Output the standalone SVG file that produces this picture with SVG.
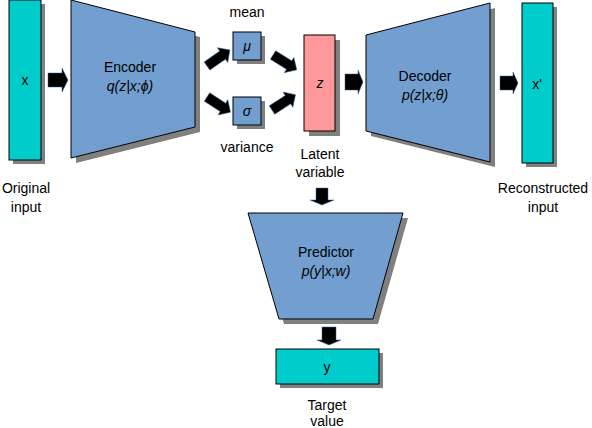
<svg xmlns="http://www.w3.org/2000/svg" width="592" height="428" viewBox="0 0 592 428">
<style>
text{font-family:"Liberation Sans",Arial,sans-serif;font-size:14px;fill:#000;text-anchor:middle}
.it{font-style:italic}
.sh{fill:#808080;stroke:none}
.cy{fill:#00cccc;stroke:#000;stroke-width:1}
.bl{fill:#729fcf;stroke:#000;stroke-width:1}
.pk{fill:#ff9999;stroke:#000;stroke-width:1}
.ar{fill:#000;stroke:#3465a4;stroke-width:0.5}
</style>
<rect width="592" height="428" fill="#fff"/>
<g id="input">
<rect class="sh" x="13" y="4" width="32" height="160"/>
<rect class="cy" x="9" y="0" width="32" height="160"/>
<text x="25" y="85">x</text>
<text x="26" y="193">Original</text>
<text x="26" y="212">input</text>
</g>
<g id="encoder">
<polygon class="sh" points="76,5 200,37 200,132 76,163"/>
<polygon class="bl" points="71,0 195,32 195,127 71,158"/>
<text x="130" y="72">Encoder</text>
<text x="130" y="91" class="it">q(z|x;ϕ)</text>
</g>
<g id="mean">
<rect class="sh" x="237" y="36" width="28" height="28"/>
<rect class="bl" x="233" y="32" width="28" height="28"/>
<text x="247" y="51" class="it">μ</text>
<text x="247" y="17">mean</text>
</g>
<g id="variance">
<rect class="sh" x="237" y="101" width="28" height="28"/>
<rect class="bl" x="233" y="97" width="28" height="28"/>
<text x="247" y="116" class="it">σ</text>
<text x="247" y="152">variance</text>
</g>
<g id="latent">
<rect class="sh" x="309" y="40" width="31" height="96"/>
<rect class="pk" x="304" y="35" width="31" height="96"/>
<text x="320" y="88" class="it">z</text>
<text x="320" y="159">Latent</text>
<text x="320" y="177">variable</text>
</g>
<g id="decoder">
<polygon class="sh" points="371,40 495,8 495,167 371,136"/>
<polygon class="bl" points="366,35 490,3 490,162 366,131"/>
<text x="425" y="81">Decoder</text>
<text x="425" y="100" class="it">p(z|x;θ)</text>
</g>
<g id="output">
<rect class="sh" x="526" y="7" width="31" height="160"/>
<rect class="cy" x="522" y="3" width="31" height="160"/>
<text x="537" y="89">x'</text>
<text x="543" y="193">Reconstructed</text>
<text x="543" y="212">input</text>
</g>
<g id="predictor">
<polygon class="sh" points="253,218 408,218 378,324 284,324"/>
<polygon class="bl" points="248,213 403,213 373,319 279,319"/>
<text x="326" y="257">Predictor</text>
<text x="326" y="276" class="it">p(y|x;w)</text>
</g>
<g id="target">
<rect class="sh" x="280" y="353" width="103" height="35"/>
<rect class="cy" x="276" y="349" width="103" height="35"/>
<text x="327" y="372">y</text>
<text x="327" y="410">Target</text>
<text x="327" y="426">value</text>
</g>
<g id="connectors">
<path class="ar" transform="translate(48,80)" d="M0,-7 L14,-7 L14,-12 L20,0 L14,12 L14,7 L0,7 Z"/>
<path class="ar" transform="translate(207,66) rotate(-35)" d="M0,-5 L19,-5 L19,-9 L28,0 L19,9 L19,5 L0,5 Z"/>
<path class="ar" transform="translate(207,97) rotate(33)" d="M0,-5 L19,-5 L19,-9 L28,0 L19,9 L19,5 L0,5 Z"/>
<path class="ar" transform="translate(273,55) rotate(32)" d="M0,-5 L19,-5 L19,-9 L28,0 L19,9 L19,5 L0,5 Z"/>
<path class="ar" transform="translate(272,110) rotate(-33)" d="M0,-5 L19,-5 L19,-9 L28,0 L19,9 L19,5 L0,5 Z"/>
<path class="ar" transform="translate(345,82)" d="M0,-8 L13,-8 L13,-12 L18,0 L13,12 L13,8 L0,8 Z"/>
<path class="ar" transform="translate(500,83)" d="M0,-7 L13,-7 L13,-11 L18,0 L13,11 L13,7 L0,7 Z"/>
<path class="ar" transform="translate(322,188) rotate(90)" d="M0,-6 L12,-6 L12,-12 L17,0 L12,12 L12,6 L0,6 Z"/>
<path class="ar" transform="translate(329,327) rotate(90)" d="M0,-7 L13,-7 L13,-12 L18,0 L13,12 L13,7 L0,7 Z"/>
</g>
</svg>
